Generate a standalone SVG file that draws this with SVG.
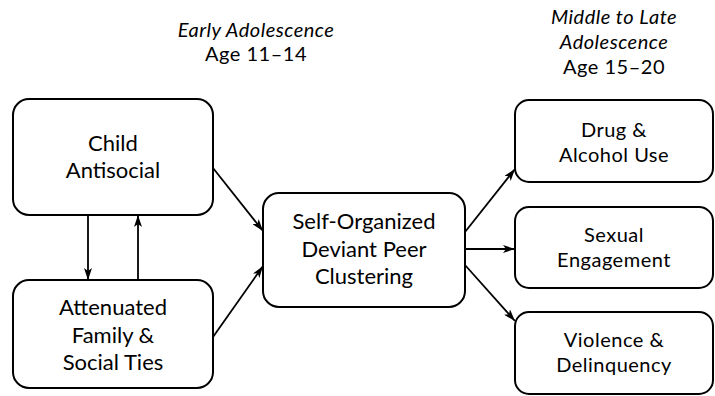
<svg xmlns="http://www.w3.org/2000/svg" width="715" height="396" viewBox="0 0 715 396">
<style>
.box{fill:#fff;stroke:#000;stroke-width:2}
.t{font-family:Lato,"Open Sans","DejaVu Sans",sans-serif;font-size:22px;fill:#000;text-anchor:middle}
.s{font-size:20px;letter-spacing:0.5px}
.i{font-style:italic}
.c{stroke:#000;stroke-width:1.8;fill:none;marker-end:url(#ah)}
</style>
<defs>
<marker id="ah" viewBox="0 0 12 8" refX="12" refY="4" markerWidth="12" markerHeight="8" markerUnits="userSpaceOnUse" orient="auto">
<path d="M0,0 L12,4 L0,8 L3,4 Z" fill="#000"/>
</marker>
</defs>
<g id="header-early">
<text class="t s i" x="256" y="37">Early Adolescence</text>
<text class="t s" x="256" y="61">Age 11–14</text>
</g>
<g id="header-late">
<text class="t s i" x="614" y="24">Middle to Late</text>
<text class="t s i" x="614" y="49">Adolescence</text>
<text class="t s" x="614" y="74">Age 15–20</text>
</g>
<g id="child">
<rect class="box" x="13" y="99" width="200" height="116" rx="16"/>
<text class="t" x="113" y="151">Child</text>
<text class="t" x="113" y="178">Antisocial</text>
</g>
<g id="attenuated">
<rect class="box" x="13" y="280" width="200" height="108" rx="16"/>
<text class="t" x="113" y="315">Attenuated</text>
<text class="t" x="113" y="343">Family &amp;</text>
<text class="t" x="113" y="370">Social Ties</text>
</g>
<g id="peer">
<rect class="box" x="263" y="193" width="202" height="114" rx="16"/>
<text class="t" x="364" y="229">Self-Organized</text>
<text class="t" x="364" y="257">Deviant Peer</text>
<text class="t" x="364" y="284">Clustering</text>
</g>
<g id="drug">
<rect class="box" x="515" y="100" width="198" height="82" rx="14"/>
<text class="t s" x="614" y="137">Drug &amp;</text>
<text class="t s" x="614" y="162">Alcohol Use</text>
</g>
<g id="sexual">
<rect class="box" x="515" y="207" width="198" height="81" rx="14"/>
<text class="t s" x="614" y="242">Sexual</text>
<text class="t s" x="614" y="267">Engagement</text>
</g>
<g id="violence">
<rect class="box" x="515" y="312" width="198" height="82" rx="14"/>
<text class="t s" x="614" y="347">Violence &amp;</text>
<text class="t s" x="614" y="372">Delinquency</text>
</g>
<g id="connectors">
<line class="c" x1="88" y1="215" x2="88" y2="280"/>
<line class="c" x1="138" y1="280" x2="138" y2="215"/>
<line class="c" x1="213" y1="168" x2="263" y2="231"/>
<line class="c" x1="213" y1="337" x2="263" y2="266"/>
<line class="c" x1="465" y1="232" x2="515" y2="169"/>
<line class="c" x1="465" y1="249" x2="515" y2="249"/>
<line class="c" x1="465" y1="265" x2="515" y2="321"/>
</g>
</svg>
